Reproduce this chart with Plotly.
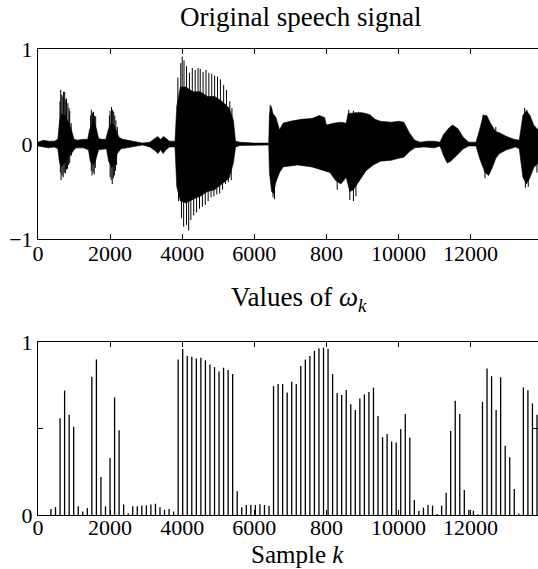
import plotly.graph_objects as go

# ---------------- data ----------------
# upper / lower envelope of the speech waveform (sample index, amplitude)
env_up_x = [0, 150, 300, 450, 550, 600, 650, 700, 760, 820, 880, 950, 1000, 1100, 1250, 1380, 1430, 1500, 1560, 1620, 1680,
            1750, 1880, 1950, 2030, 2100, 2170, 2250, 2350, 2500, 2700, 2900, 3100, 3250, 3320, 3400, 3480, 3550, 3650,
            3800, 3850, 3950, 4100, 4300, 4500, 4700, 4900, 5100, 5300, 5420, 5480, 5600, 6000, 6400, 6420, 6460, 6520,
            6600, 6700, 6800, 7000, 7300, 7600, 7800, 7950, 8000, 8200, 8400, 8550, 8600, 8800, 9000, 9200, 9350, 9500,
            9800, 10000, 10150, 10300, 10450, 10600, 10800, 11000, 11150, 11250, 11400, 11500, 11650, 11800, 11950,
            12150, 12250, 12350, 12450, 12550, 12700, 12800, 13000, 13200, 13350, 13450, 13550, 13650, 13750, 13870]
env_up_y = [0.02, 0.04, 0.03, 0.03, 0.05, 0.25, 0.32, 0.3, 0.3, 0.25, 0.2, 0.12, 0.05, 0.04, 0.05, 0.05, 0.15, 0.2, 0.22,
            0.16, 0.06, 0.05, 0.05, 0.15, 0.22, 0.2, 0.14, 0.07, 0.05, 0.04, 0.03, 0.01, 0.02, 0.06, 0.08, 0.05, 0.08,
            0.06, 0.03, 0.03, 0.4, 0.6, 0.6, 0.55, 0.55, 0.5, 0.5, 0.45, 0.38, 0.25, 0.03, 0.02, 0.01, 0.01, 0.3, 0.4,
            0.32, 0.28, 0.15, 0.22, 0.24, 0.26, 0.27, 0.30, 0.28, 0.2, 0.22, 0.23, 0.22, 0.32, 0.33, 0.33, 0.31, 0.26,
            0.24, 0.23, 0.24, 0.23, 0.12, 0.04, 0.02, 0.03, 0.03, 0.02, 0.1, 0.17, 0.2, 0.16, 0.07, 0.02, 0.02, 0.15,
            0.3, 0.3, 0.22, 0.13, 0.12, 0.08, 0.05, 0.04, 0.3, 0.35, 0.3, 0.2, 0.15]
env_lo_x = [0, 150, 300, 450, 550, 600, 650, 720, 800, 900, 980, 1050, 1250, 1400, 1450, 1520, 1600, 1680, 1900, 1960, 2050,
            2120, 2200, 2300, 2500, 2900, 3100, 3250, 3330, 3400, 3470, 3550, 3650, 3800, 3850, 3950, 4100, 4300, 4500,
            4700, 4900, 5100, 5300, 5420, 5480, 5600, 6400, 6420, 6480, 6530, 6600, 6700, 6800, 7200, 7600, 7950, 8100,
            8250, 8400, 8550, 8650, 8750, 8900, 9100, 9300, 9500, 9800, 10000, 10150, 10300, 10450, 10700, 11000, 11150,
            11250, 11350, 11450, 11600, 11800, 11950, 12150, 12250, 12400, 12500, 12600, 12700, 12800, 13000, 13250,
            13350, 13450, 13550, 13650, 13750, 13870]
env_lo_y = [-0.02, -0.03, -0.04, -0.03, -0.05, -0.2, -0.24, -0.2, -0.17, -0.12, -0.07, -0.04, -0.04, -0.06, -0.18, -0.22,
            -0.17, -0.06, -0.05, -0.18, -0.25, -0.2, -0.1, -0.05, -0.04, -0.01, -0.03, -0.07, -0.1, -0.06, -0.1, -0.06,
            -0.03, -0.03, -0.45, -0.6, -0.62, -0.58, -0.55, -0.5, -0.48, -0.42, -0.36, -0.2, -0.03, -0.015, -0.01, -0.3,
            -0.5, -0.52, -0.4, -0.3, -0.24, -0.22, -0.24, -0.28, -0.3, -0.38, -0.42, -0.35, -0.5, -0.48, -0.4, -0.28,
            -0.22, -0.18, -0.17, -0.15, -0.14, -0.08, -0.04, -0.03, -0.04, -0.02, -0.12, -0.2, -0.18, -0.12, -0.05,
            -0.02, -0.02, -0.15, -0.3, -0.33, -0.25, -0.15, -0.1, -0.06, -0.03, -0.05, -0.35, -0.42, -0.35, -0.25, -0.2]
# individual waveform peaks that stick out of the envelope
spike_x = [610, 630, 660, 690, 710, 740, 770, 790, 830, 860, 880, 920, 620, 640, 670, 700, 730, 760, 790, 820, 850, 880, 930,
           1460, 1480, 1510, 1540, 1570, 1600, 1480, 1500, 1530, 1560, 1590,
           1980, 2000, 2040, 2070, 2100, 2130, 2160, 2200, 2000, 2030, 2060, 2090, 2120, 2150, 2180,
           3880, 3960, 4000, 4050, 4120, 4200, 4280, 4360, 4440, 4500, 4580, 4660, 4740, 4820, 4900, 4980, 5060, 5150,
           5230, 5320, 5380,
           3900, 3980, 4040, 4120, 4180, 4240, 4320, 4400, 4480, 4560, 4640, 4720, 4800, 4880, 4960, 5040, 5120, 5200,
           5280, 5360,
           6440, 6480, 8620, 8750, 8900, 6520, 6560, 8300, 8650, 8750, 8820,
           12350, 12400, 12700, 13500, 13560, 13520, 13600, 13840]
spike_y = [0.45, 0.57, 0.52, 0.5, 0.55, 0.55, 0.47, 0.48, 0.43, 0.38, 0.35, 0.22,
           -0.3, -0.38, -0.33, -0.35, -0.3, -0.31, -0.27, -0.26, -0.22, -0.2, -0.12,
           0.3, 0.36, 0.33, 0.34, 0.3, 0.29, -0.28, -0.33, -0.3, -0.32, -0.25,
           0.3, 0.35, 0.39, 0.36, 0.34, 0.3, 0.25, 0.18, -0.35, -0.38, -0.42, -0.36, -0.33, -0.28, -0.22,
           0.70, 0.85, 0.92, 0.88, 0.82, 0.75, 0.80, 0.78, 0.80, 0.79, 0.76, 0.78, 0.75, 0.74, 0.72, 0.71, 0.68, 0.62,
           0.57, 0.45, 0.38,
           -0.6, -0.78, -0.87, -0.85, -0.91, -0.8, -0.75, -0.72, -0.68, -0.66, -0.64, -0.6, -0.56, -0.55, -0.53, -0.52,
           -0.48, -0.42, -0.4, -0.38,
           0.41, 0.38, 0.36, 0.35, 0.34, -0.56, -0.58, -0.48, -0.59, -0.6, -0.55,
           0.31, -0.36, 0.18, 0.38, 0.36, -0.46, -0.45, -0.3]

# omega_k values, one per block
block_start = 360
block_len = 126
omega = [0.035, 0.045, 0.56, 0.72, 0.58, 0.51, 0.05, 0.02, 0.04, 0.80, 0.90, 0.22, 0.05, 0.33, 0.68, 0.49, 0.06, 0.01,
         0.05, 0.05, 0.055, 0.055, 0.06, 0.065, 0.045, 0.03, 0.035, 0.02,
         0.90, 0.96, 0.92, 0.915, 0.905, 0.91, 0.895, 0.87, 0.855, 0.83, 0.852, 0.838, 0.815,
         0.137, 0.045, 0.058, 0.058, 0.058, 0.062, 0.058, 0.054,
         0.745, 0.757, 0.757, 0.709, 0.77, 0.757, 0.862, 0.90, 0.92, 0.95, 0.964, 0.968, 0.961, 0.815, 0.706, 0.694,
         0.723, 0.64, 0.607, 0.674, 0.697, 0.712, 0.737, 0.572, 0.45, 0.468, 0.425, 0.42, 0.497, 0.584, 0.447,
         0.087, 0.025, 0.042, 0.058, 0.054, 0.006, 0.054, 0.129, 0.486, 0.661, 0.584, 0.145, 0.03, 0.025, 0.005,
         0.655, 0.847, 0.803, 0.607, 0.797, 0.40, 0.334, 0.15, 0.008, 0.738, 0.722, 0.645, 0.58]

x_tickvals = [0, 2000, 4000, 6000, 8000, 10000, 12000]
x_ticktext = ["0", "2000", "4000", "6000", "800", "10000", "12000"]
x_max = 13870

# ---------------- figure ----------------
FONT = "Liberation Serif"
fig = go.Figure()

# waveform: filled envelope
poly_x = env_up_x + env_lo_x[::-1]
poly_y = env_up_y + env_lo_y[::-1]
fig.add_trace(go.Scatter(x=poly_x, y=poly_y, fill="toself", fillcolor="black", mode="lines",
                         line=dict(color="black", width=0.6), xaxis="x", yaxis="y", hoverinfo="skip"))
sx, sy = [], []
for x, y in zip(spike_x, spike_y):
    sx += [x, x, None]
    sy += [0, y, None]
fig.add_trace(go.Scatter(x=sx, y=sy, mode="lines", line=dict(color="black", width=1), xaxis="x", yaxis="y",
                         hoverinfo="skip"))

# stems
stx, sty = [], []
for i, v in enumerate(omega):
    xx = block_start + i * block_len
    stx += [xx, xx, None]
    sty += [0, v, None]
fig.add_trace(go.Scatter(x=stx, y=sty, mode="lines", line=dict(color="black", width=1.3), xaxis="x2", yaxis="y2",
                         hoverinfo="skip"))

axis_common = dict(showgrid=False, zeroline=False, showline=True, linecolor="black", linewidth=1, mirror="ticks",
                   ticks="inside", ticklen=5, tickcolor="black",
                   tickfont=dict(family=FONT, size=22, color="black"))

fig.update_layout(
    width=538, height=569, margin=dict(l=38, r=0, t=49, b=54),
    paper_bgcolor="white", plot_bgcolor="white", showlegend=False,
    xaxis=dict(domain=[0, 1], range=[0, x_max], anchor="y", tickvals=x_tickvals, ticktext=x_ticktext,
               ticklabelstandoff=-6, **axis_common),
    yaxis=dict(domain=[0.592, 1], range=[-1, 1], anchor="x", tickvals=[-1, 0, 1], ticktext=["−1", "0", "1"],
               **axis_common),
    xaxis2=dict(domain=[0, 1], range=[0, x_max], anchor="y2", tickvals=x_tickvals, ticktext=x_ticktext,
                ticklabelstandoff=-7, **axis_common),
    yaxis2=dict(domain=[0, 0.371], range=[0, 1], anchor="x2", tickvals=[0, 1], ticktext=["0", "1"],
                minor=dict(tickvals=[0.5], ticks="inside", ticklen=5, tickcolor="black", showgrid=False),
                **axis_common),
    annotations=[
        dict(text="Original speech signal", xref="paper", yref="paper", x=(300 - 38) / 500, y=(569 - 54 - 17) / 466,
             xanchor="center", yanchor="middle", showarrow=False, font=dict(family=FONT, size=27, color="black")),
        dict(text="Values of <i>ω</i><sub><i>k</i></sub>", xref="paper", yref="paper", x=(299 - 38) / 500,
             y=(569 - 54 - 299) / 466, xanchor="center", yanchor="middle", showarrow=False,
             font=dict(family=FONT, size=27, color="black")),
        dict(text="Sample <i>k</i>", xref="paper", yref="paper", x=(297 - 38) / 500, y=(569 - 54 - 554) / 466,
             xanchor="center", yanchor="middle", showarrow=False, font=dict(family=FONT, size=25, color="black")),
    ],
)

fig.write_html("out.html")
